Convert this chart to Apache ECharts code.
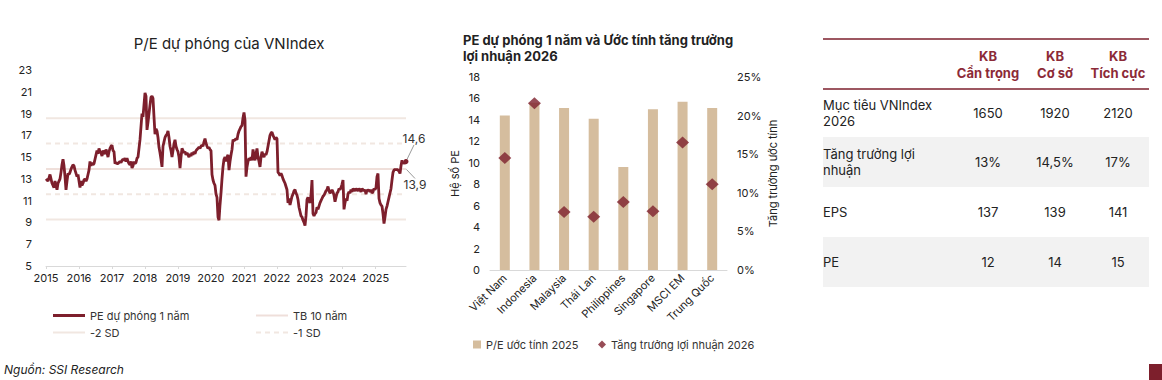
<!DOCTYPE html>
<html><head><meta charset="utf-8">
<script src="https://cdn.jsdelivr.net/npm/echarts@6/dist/echarts.min.js"></script>
<style>html,body{margin:0;padding:0;background:#fff}#c{width:1162px;height:380px}</style>
</head><body><div id="c"></div>
<script>
// ---------- Left chart data ----------
const peStartYear = 2015;
const pePointsPerYear = 32.97;
const peValues = [
13.0,12.9,12.8,13.1,13.4,13.0,12.6,12.4,12.2,12.8,12.4,12.0,12.6,12.8,13.0,13.6,14.3,14.8,14.2,13.2,
12.0,12.8,13.5,13.4,13.6,13.9,14.1,14.3,14.2,13.8,13.5,13.2,13.4,12.8,12.2,12.8,12.4,12.6,12.9,13.0,
12.8,13.0,13.4,13.8,14.6,14.2,14.5,14.3,14.4,14.8,15.2,15.6,15.3,15.8,15.5,15.4,15.1,15.6,15.4,15.3,
15.7,15.4,15.0,15.5,15.8,16.0,16.1,15.6,15.5,14.4,14.5,14.4,14.4,14.5,14.6,14.5,14.7,14.8,14.7,14.9,
14.6,14.9,14.6,14.4,14.3,14.6,14.0,14.2,14.6,14.4,14.5,14.9,15.0,15.8,16.6,17.8,19.0,18.7,19.8,20.9,
20.6,17.5,18.2,19.0,19.8,20.5,20.6,20.4,18.7,17.1,17.6,17.4,16.8,15.9,15.4,14.8,14.1,16.0,16.4,16.8,
17.0,17.1,17.4,16.8,16.0,15.6,15.0,15.6,16.2,16.6,16.0,15.7,15.5,15.0,14.0,15.0,15.8,15.6,15.4,15.5,
15.2,15.4,15.2,15.0,15.3,15.1,15.4,15.2,15.5,15.3,15.6,15.7,15.8,15.9,15.8,16.0,16.1,16.0,16.4,16.7,
16.3,16.0,15.8,15.9,15.7,15.6,13.4,12.9,12.6,12.4,11.6,11.3,9.5,9.2,10.6,11.7,13.0,14.1,14.8,15.0,
14.6,15.0,15.2,13.8,14.6,15.2,15.7,16.6,16.5,16.6,16.7,16.6,17.1,17.4,17.6,17.8,17.9,18.6,19.1,18.4,
13.2,14.1,14.6,14.9,14.7,15.0,14.7,15.7,15.2,14.7,15.3,15.8,15.0,14.6,14.1,15.0,15.5,15.2,15.0,15.3,
15.2,15.5,16.0,16.5,17.0,17.2,17.3,17.0,16.8,16.6,16.8,16.7,13.6,13.5,13.3,13.5,13.3,13.0,12.8,12.6,
12.3,12.0,10.8,11.2,10.6,11.0,11.4,11.6,11.9,12.0,11.7,11.5,11.1,10.4,10.0,9.6,9.5,9.2,9.0,8.7,
9.6,11.1,11.3,11.0,10.8,11.5,12.9,9.8,9.6,9.8,9.9,10.4,10.2,10.5,10.8,11.0,11.2,11.4,11.5,11.7,
11.9,12.0,12.3,11.9,11.7,11.8,12.0,11.8,11.5,10.9,11.3,11.7,11.8,12.1,12.0,12.2,12.5,12.9,10.2,10.8,
11.2,11.0,11.6,11.8,11.7,12.0,11.8,12.1,12.0,11.9,12.1,12.0,11.9,12.1,12.0,11.8,12.1,12.0,11.9,12.0,
11.6,12.0,11.9,12.0,11.8,12.0,11.7,11.8,12.1,12.0,12.2,13.2,13.5,11.2,10.8,10.6,10.5,9.8,8.9,9.5,
10.2,10.5,10.9,11.3,11.7,12.1,12.9,13.6,13.8,13.9,13.8,13.9,13.8,13.7,13.5,14.2,14.7,14.4,14.5,14.4,
14.6
];
const yearLabels = [2015,2016,2017,2018,2019,2020,2021,2022,2023,2024,2025];
const refNames  = ['-2 SD','-1 SD','TB 10 năm','+1 SD','+2 SD'];
const refValues = [9.26, 11.58, 13.91, 16.24, 18.56];
const peLastLabel = '14,6';
const meanLabel = '13,9';

// ---------- Middle chart data ----------
const countries = ['Việt Nam','Indonesia','Malaysia','Thái Lan','Philippines','Singapore','MSCI EM','Trung Quốc'];
const pe2025 = [14.4, 15.6, 15.1, 14.1, 9.6, 15.0, 15.7, 15.1];
const growth2026 = [14.5, 21.6, 7.5, 6.9, 8.8, 7.6, 16.5, 11.1];

// ---------- Table data ----------
const tableHeaders = ['KB\nCẩn trọng', 'KB\nCơ sở', 'KB\nTích cực'];
const tableRowLabels = ['Mục tiêu VNIndex\n2026', 'Tăng trưởng lợi\nnhuận', 'EPS', 'PE'];
const tableValues = [
  ['1650','1920','2120'],
  ['13%','14,5%','17%'],
  ['137','139','141'],
  ['12','14','15']
];

const MAROON = '#7d1f2c';
const FONT = 'Inter, "Noto Sans", sans-serif';
const DASH_ICON = 'path://M0,0h5v2h-5zM9,0h5v2h-5zM18,0h5v2h-5zM27,0h5v2h-5z';

const peData = peValues.map((v, i) => [peStartYear + i / pePointsPerYear, v]);
const xMax = peData[peData.length - 1][0];
peData[peData.length - 1] = {
  value: peData[peData.length - 1], symbol: 'circle', symbolSize: 5,
  itemStyle: {color: MAROON},
  label: {show: true, formatter: peLastLabel, position: 'top', fontSize: 12, color: '#333', fontFamily: FONT}
};

function refSeries(i) {
  const name = refNames[i];
  const isSolid = (i === 0 || i === 2 || i === 4);
  const color = (i === 2) ? '#efdfda' : '#f1e7e1';
  const d = [[peStartYear, refValues[i]], [xMax, refValues[i]]];
  const s = {
    name, type: 'line', xAxisIndex: 0, yAxisIndex: 0, data: d,
    symbol: 'none', showSymbol: true, silent: true, z: 1,
    lineStyle: {color, width: 2, type: isSolid ? 'solid' : [5, 4]},
    itemStyle: {color}
  };
  if (i === 2) {
    d[1] = {value: d[1], symbol: 'circle', symbolSize: 1,
      label: {show: true, formatter: meanLabel, position: 'bottom', fontSize: 12, color: '#333', fontFamily: FONT}};
    s.labelLayout = {dx: 9, dy: 4};
    s.labelLine = {show: true, lineStyle: {color: '#999', width: 1}};
  }
  return s;
}

const chart = echarts.init(document.getElementById('c'), null, {renderer: 'svg', width: 1162, height: 380});

const graphics = [];
const tL = 823, tR = 1149, colX = [988, 1055, 1118];
const rowBounds = [[89,137],[137,187],[187,237],[237,287]];
rowBounds.forEach((b, r) => {
  if (r % 2 === 1) graphics.push({type:'rect', shape:{x:tL, y:b[0], width:tR-tL, height:b[1]-b[0]}, style:{fill:'#f2f2f2'}, silent:true});
});
graphics.push({type:'line', shape:{x1:tL, y1:39, x2:tR, y2:39}, style:{stroke:MAROON, lineWidth:1.3}});
graphics.push({type:'line', shape:{x1:tL, y1:89, x2:tR, y2:89}, style:{stroke:MAROON, lineWidth:1.3}});
tableHeaders.forEach((h, c) => {
  graphics.push({type:'text', x:colX[c], y:64, style:{text:h, align:'center', verticalAlign:'middle',
    fill:'#8c2a37', font:'bold 13px ' + FONT, lineHeight:17}});
});
tableRowLabels.forEach((lab, r) => {
  const cy = (rowBounds[r][0] + rowBounds[r][1]) / 2;
  graphics.push({type:'text', x:tL, y:cy, style:{text:lab, align:'left', verticalAlign:'middle',
    fill:'#222', font:'13px ' + FONT, lineHeight:16}});
  tableValues[r].forEach((v, c) => {
    graphics.push({type:'text', x:colX[c], y:cy, style:{text:v, align:'center', verticalAlign:'middle',
      fill:'#222', font:'13px ' + FONT}});
  });
});
graphics.push({type:'text', x:4, y:369, style:{text:'Nguồn: SSI Research', align:'left', verticalAlign:'middle',
  fill:'#222', font:'italic 12px ' + FONT}});
graphics.push({type:'rect', shape:{x:1149, y:364, width:13, height:16}, style:{fill:MAROON}});

const legendBase = {orient:'horizontal', itemWidth:32, itemHeight:2, itemGap:6,
  textStyle:{fontSize:11, color:'#333', fontFamily:FONT}, selectedMode:false};

chart.setOption({
  backgroundColor: '#fff',
  animation: false,
  textStyle: {fontFamily: FONT},
  title: [
    {text: 'P/E dự phóng của VNIndex', left: 224, top: 31, textAlign: 'center',
     textStyle: {fontSize: 15, fontWeight: 'normal', color: '#222', fontFamily: FONT}},
    {text: 'PE dự phóng 1 năm và Ước tính tăng trưởng\nlợi nhuận 2026', left: 458, top: 27,
     textStyle: {fontSize: 13, fontWeight: 'bold', color: '#222', lineHeight: 16, fontFamily: FONT}}
  ],
  legend: [
    Object.assign({}, legendBase, {data:[{name:'PE dự phóng 1 năm', icon:'rect'}], left:48, top:305, itemHeight:3}),
    Object.assign({}, legendBase, {data:[{name:'TB 10 năm', icon:'rect'}], left:251, top:305}),
    Object.assign({}, legendBase, {data:[{name:'-2 SD', icon:'rect'}], left:48, top:322}),
    Object.assign({}, legendBase, {data:[{name:'-1 SD', icon:DASH_ICON}], left:251, top:322}),
    Object.assign({}, legendBase, {data:[{name:'P/E ước tính 2025', icon:'rect'}], left:468, top:334, itemWidth:8, itemHeight:8, itemGap:4}),
    Object.assign({}, legendBase, {data:[{name:'Tăng trưởng lợi nhuận 2026', icon:'diamond'}], left:593, top:334, itemWidth:8, itemHeight:8, itemGap:4})
  ],
  grid: [
    {left: 46, top: 70, width: 360, height: 196},
    {left: 490, top: 77, width: 237, height: 193}
  ],
  xAxis: [
    {type: 'value', gridIndex: 0, min: peStartYear, max: xMax, interval: 1,
     axisLine: {show: true, lineStyle: {color: '#d9d9d9'}},
     axisTick: {show: true, length: 3, lineStyle: {color: '#d9d9d9'}},
     splitLine: {show: false},
     axisLabel: {fontSize: 11, color: '#222', margin: 6, showMaxLabel: false,
       formatter: v => (yearLabels.indexOf(Math.round(v)) >= 0 && Math.abs(v - Math.round(v)) < 1e-6) ? String(Math.round(v)) : ''}},
    {type: 'category', gridIndex: 1, data: countries,
     axisLine: {show: true, lineStyle: {color: '#d9d9d9'}},
     axisTick: {show: false},
     axisLabel: {rotate: 45, fontSize: 11, color: '#222', margin: 6, interval: 0}}
  ],
  yAxis: [
    {type: 'value', gridIndex: 0, min: 5, max: 23, interval: 2,
     axisLine: {show: false}, axisTick: {show: false}, splitLine: {show: false},
     axisLabel: {fontSize: 11, color: '#222', margin: 14}},
    {type: 'value', gridIndex: 1, min: 0, max: 18, interval: 2,
     name: 'Hệ số PE', nameLocation: 'middle', nameGap: 30, nameRotate: 90,
     nameTextStyle: {fontSize: 11, color: '#222'},
     axisLine: {show: false}, axisTick: {show: false}, splitLine: {show: false},
     axisLabel: {fontSize: 11, color: '#222', margin: 10}},
    {type: 'value', gridIndex: 1, min: 0, max: 25, interval: 5, position: 'right',
     name: 'Tăng trưởng ước tính', nameLocation: 'middle', nameGap: 40, nameRotate: 90,
     nameTextStyle: {fontSize: 11, color: '#222'},
     axisLine: {show: false}, axisTick: {show: false}, splitLine: {show: false},
     axisLabel: {fontSize: 11, color: '#222', margin: 10, formatter: '{value}%'}}
  ],
  series: [
    refSeries(4), refSeries(3), refSeries(2), refSeries(1), refSeries(0),
    {name: 'PE dự phóng 1 năm', type: 'line', xAxisIndex: 0, yAxisIndex: 0, data: peData,
     symbol: 'none', showSymbol: true, z: 5,
     labelLayout: {dx: 8, dy: -9},
     labelLine: {show: true, lineStyle: {color: '#999', width: 1}},
     lineStyle: {color: MAROON, width: 2.8}, itemStyle: {color: MAROON}},
    {name: 'P/E ước tính 2025', type: 'bar', xAxisIndex: 1, yAxisIndex: 1, data: pe2025,
     barWidth: 10, itemStyle: {color: '#d5bd9e'}},
    {name: 'Tăng trưởng lợi nhuận 2026', type: 'scatter', xAxisIndex: 1, yAxisIndex: 2, data: growth2026,
     symbol: 'diamond', symbolSize: [13, 12], itemStyle: {color: MAROON}, z: 5}
  ],
  graphic: graphics
});
</script>
</body></html>
